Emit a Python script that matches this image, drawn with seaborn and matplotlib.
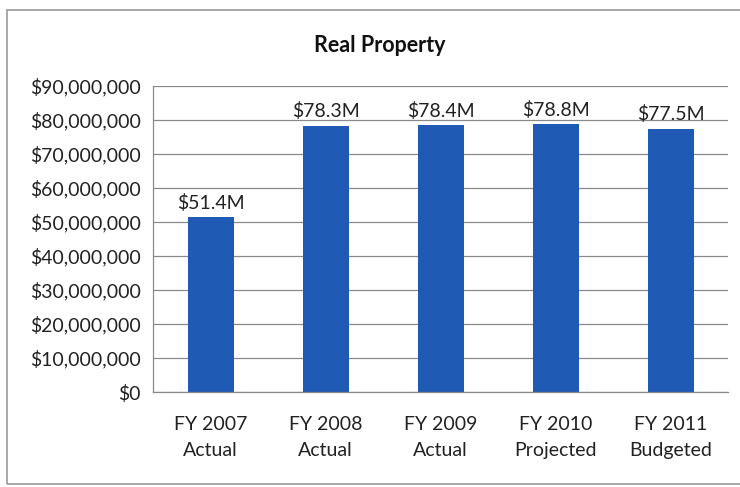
import matplotlib
matplotlib.use("Agg")
import matplotlib.pyplot as plt
from matplotlib.patches import Rectangle
from matplotlib.ticker import FuncFormatter, MultipleLocator
import seaborn as sns
import pandas as pd

categories = ["FY 2007\nActual", "FY 2008\nActual", "FY 2009\nActual",
              "FY 2010\nProjected", "FY 2011\nBudgeted"]
values_m = [51.4, 78.3, 78.4, 78.8, 77.5]
value_labels = ["$51.4M", "$78.3M", "$78.4M", "$78.8M", "$77.5M"]

sns.set_theme(style="white")
plt.rcParams["font.family"] = ["Lato", "DejaVu Sans"]

df = pd.DataFrame({"category": categories,
                   "value": [v * 1e6 for v in values_m]})

fig = plt.figure(figsize=(7.40, 4.87), dpi=100)
ax = fig.add_axes([153 / 740, 1 - 392 / 487, (728 - 153) / 740, (392 - 86) / 487])

sns.barplot(data=df, x="category", y="value", color="#1F5AB4",
            saturation=1, width=0.4, linewidth=0, ax=ax)

ax.set_ylim(0, 90e6)
ax.yaxis.set_major_locator(MultipleLocator(10e6))
ax.yaxis.set_major_formatter(FuncFormatter(lambda v, _: f"${v:,.0f}"))
ax.grid(axis="y", color="#8a8a8a", linewidth=0.9)
ax.set_axisbelow(True)
ax.set_xlabel("")
ax.set_ylabel("")

for side in ("top", "right"):
    ax.spines[side].set_visible(False)
for side in ("left", "bottom"):
    ax.spines[side].set_color("#8a8a8a")
    ax.spines[side].set_linewidth(0.9)

fs = 14

# category boundary ticks on x, short ticks on y
ax.set_xticks([i for i in range(len(categories))])
ax.set_xticklabels(categories, fontsize=fs, color="#222222", linespacing=1.7)
ax.set_xticks([i - 0.5 for i in range(len(categories) + 1)], minor=True)
ax.tick_params(axis="x", which="major", length=0, pad=17)
ax.tick_params(axis="x", which="minor", length=5, color="#8a8a8a", width=0.9)
ax.tick_params(axis="y", length=5, color="#8a8a8a", width=0.9,
               labelsize=fs, labelcolor="#222222", pad=4)

for i, (v, lab) in enumerate(zip(values_m, value_labels)):
    ax.annotate(lab, (i, v * 1e6), xytext=(0, 4), textcoords="offset points",
                ha="center", va="bottom", fontsize=fs, color="#222222")

fig.text(380 / 740, 1 - 45 / 487, "Real Property", ha="center", va="center",
         fontsize=15.5, fontweight="bold", color="#111111")

# outer chart frame
fig.patches.append(Rectangle((7 / 740, 1 - 484 / 487), 1.0, (484 - 10) / 487,
                             transform=fig.transFigure, fill=False,
                             edgecolor="#9a9a9a", linewidth=1.2))

fig.savefig("out.png", dpi=100)
